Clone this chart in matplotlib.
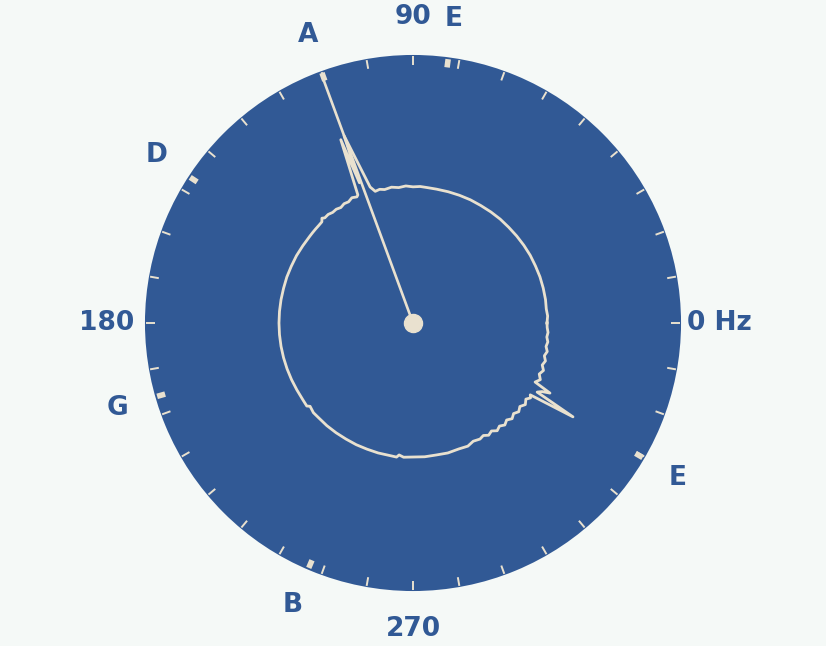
import numpy as np
import matplotlib
matplotlib.use("Agg")
import matplotlib.pyplot as plt

# ---- data ----
spec_freq = [0, 3, 6, 10, 15, 20, 25, 30, 35, 40, 45, 50, 55, 60, 65, 70, 75, 80, 84, 87,
             90, 93, 96, 99, 102, 104, 106, 107.5, 110.2, 110.9, 111.5, 113.3, 114, 116, 118,
             120, 122, 124, 126, 128, 130, 131, 132, 134, 136, 138, 140, 145, 150, 155, 160,
             165, 170, 175, 180, 185, 190, 195, 200, 205, 210, 215, 218, 219, 222, 225, 230,
             235, 240, 245, 250, 255, 260, 263, 264, 266, 270, 275, 280, 285, 290, 294, 297,
             300, 302, 304, 306, 308, 310, 312, 314, 316, 318, 320, 322, 324, 326, 327.5,
             328.5, 329.6, 330.9, 332, 332.9, 334.2, 336, 338, 340, 342, 344, 346, 348, 350,
             352, 354, 356, 358, 360]
spec_level = [0.500, 0.503, 0.500, 0.502, 0.503, 0.504, 0.504, 0.505, 0.505, 0.505, 0.505,
              0.506, 0.506, 0.506, 0.507, 0.507, 0.507, 0.507, 0.508, 0.510,
              0.508, 0.512, 0.508, 0.513, 0.509, 0.514, 0.511, 0.532, 0.745, 0.560, 0.735,
              0.520, 0.515, 0.520, 0.512,
              0.514, 0.508, 0.512, 0.510, 0.514, 0.512, 0.518, 0.508, 0.506, 0.505, 0.504,
              0.503, 0.502, 0.502, 0.501, 0.501,
              0.500, 0.500, 0.500, 0.500, 0.500, 0.500, 0.500, 0.500, 0.500, 0.500, 0.501,
              0.503, 0.494, 0.500, 0.499, 0.500,
              0.500, 0.500, 0.501, 0.501, 0.502, 0.502, 0.504, 0.495, 0.502, 0.500, 0.501,
              0.500, 0.502, 0.500, 0.503, 0.495,
              0.500, 0.495, 0.505, 0.498, 0.510, 0.502, 0.512, 0.503, 0.514, 0.505, 0.515,
              0.506, 0.518, 0.508, 0.520,
              0.513, 0.692, 0.530, 0.545, 0.574, 0.506, 0.520, 0.508, 0.518, 0.507, 0.514,
              0.505, 0.512, 0.504,
              0.508, 0.502, 0.505, 0.501, 0.500]

note_freqs = [82.41, 110.0, 146.83, 196.0, 246.94, 329.63]
note_names = ['E', 'A', 'D', 'G', 'B', 'E']
detected_freq = 110.2
axis_label_freqs = [0, 90, 180, 270]
axis_labels = ['0 Hz', '90', '180', '270']
tick_freqs = list(range(0, 360, 10))

# ---- style ----
BG = '#f5f9f7'
BLUE = '#315995'
CREAM = '#e9e1cf'

fig = plt.figure(figsize=(8.26, 6.46), dpi=100)
fig.patch.set_facecolor(BG)
ax = fig.add_axes([0.5 - 0.3245, 0.5 - 0.415, 0.649, 0.830], projection='polar')
ax.set_facecolor(BLUE)
ax.set_theta_zero_location('E')
ax.set_theta_direction(1)
ax.set_ylim(0, 1)
ax.set_xticks([])
ax.set_yticks([])
ax.grid(False)
ax.spines['polar'].set_visible(False)

# tick marks
for f in tick_freqs:
    th = np.deg2rad(f)
    ax.plot([th, th], [0.963, 0.996], color=CREAM, lw=1.4, solid_capstyle='butt')

# note markers
for f in note_freqs:
    th = np.deg2rad(f)
    ax.plot([th, th], [0.962, 0.993], color=CREAM, lw=4.0, solid_capstyle='butt')

# spectrum
ax.plot(np.deg2rad(spec_freq), spec_level, color=CREAM, lw=2.0)

# needle
thn = np.deg2rad(detected_freq)
ax.plot([thn, thn], [0, 0.978], color=CREAM, lw=1.9, solid_capstyle='butt')
ax.plot([0], [0], marker='o', ms=13, color=CREAM, mec=CREAM)

# labels
for f, s in zip(axis_label_freqs, axis_labels):
    ax.text(np.deg2rad(f), 1.142, s, color=BLUE, fontsize=19, fontweight='bold',
            ha='center', va='center', clip_on=False)
for f, s in zip(note_freqs, note_names):
    ax.text(np.deg2rad(f), 1.145, s, color=BLUE, fontsize=19, fontweight='bold',
            ha='center', va='center', clip_on=False)

fig.savefig('out.png', dpi=100, facecolor=BG)
